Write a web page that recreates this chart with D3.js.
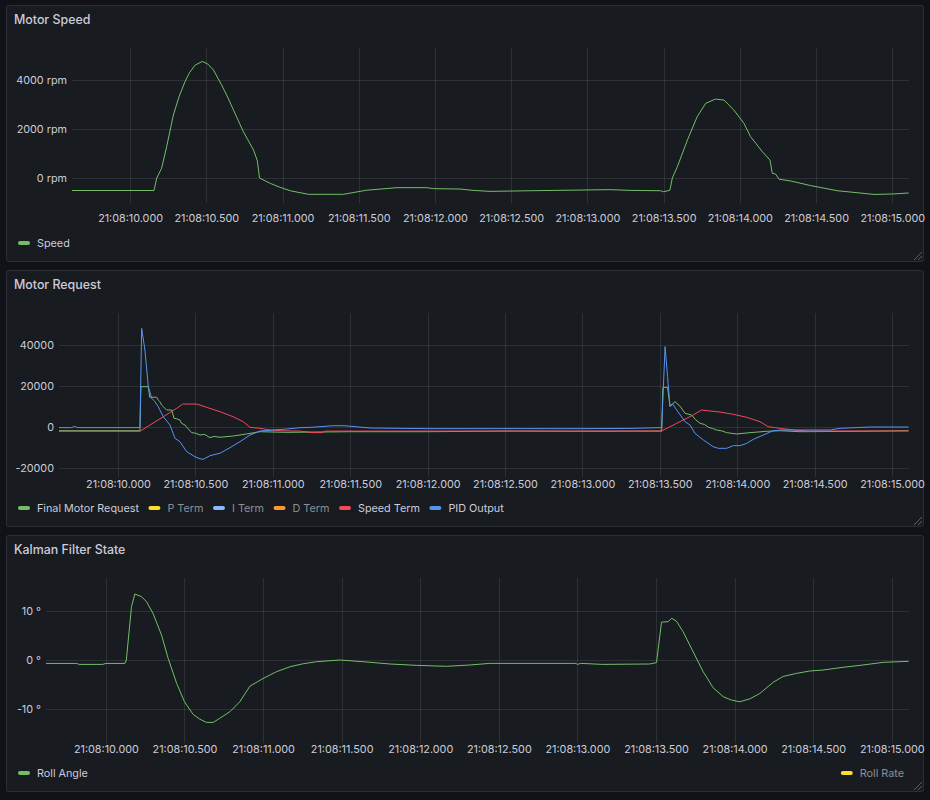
<!DOCTYPE html>
<html><head><meta charset="utf-8">
<script src="https://cdn.jsdelivr.net/npm/d3@7"></script>
<style>
html,body{margin:0;padding:0;background:#111217;}
svg{display:block;font-family:Inter,"Noto Sans",sans-serif;}
</style></head>
<body>
<svg id="c" width="930" height="800"></svg>
<script>
// ---- DATA (time = seconds after 21:08:00) ----
const timeDomain = [9.619, 15.107];
const xTicks = [10, 10.5, 11, 11.5, 12, 12.5, 13, 13.5, 14, 14.5, 15];

const speedTicks = [0, 2000, 4000];
const speed = [[9.619,-510],[10.157,-510],[10.175,0],[10.207,400],[10.24,1280],[10.284,2570],[10.32,3300],[10.36,3930],[10.39,4300],[10.427,4610],[10.474,4760],[10.51,4650],[10.547,4410],[10.60,3800],[10.64,3300],[10.678,2780],[10.743,1890],[10.81,1140],[10.835,700],[10.849,0],[10.92,-220],[10.984,-380],[11.05,-520],[11.17,-665],[11.40,-665],[11.55,-500],[11.75,-395],[11.946,-395],[11.99,-435],[12.165,-450],[12.25,-505],[12.36,-545],[12.625,-520],[13.15,-475],[13.28,-505],[13.48,-520],[13.50,-560],[13.541,-500],[13.557,0],[13.59,460],[13.656,1550],[13.72,2500],[13.776,3050],[13.84,3220],[13.896,3180],[13.96,2780],[14.027,2230],[14.07,1690],[14.148,1070],[14.198,730],[14.213,190],[14.235,160],[14.257,-50],[14.333,-120],[14.465,-310],[14.64,-520],[14.77,-600],[14.88,-670],[15.01,-650],[15.107,-610]];

const reqTicks = [-20000, 0, 20000, 40000];
const finalMotorRequest = [[9.619,-1800],[10.142,-1800],[10.148,19660],[10.196,19660],[10.205,14500],[10.25,14500],[10.262,13000],[10.271,12300],[10.283,10600],[10.293,9900],[10.314,8300],[10.347,8300],[10.362,4240],[10.38,4000],[10.40,3400],[10.41,1800],[10.433,980],[10.45,-600],[10.476,-2760],[10.50,-3000],[10.53,-3900],[10.56,-3600],[10.594,-5200],[10.62,-4600],[10.659,-5000],[10.744,-4400],[10.83,-3400],[10.917,-2300],[11.09,-2600],[11.5,-2300],[12.0,-2300],[12.5,-2000],[13.0,-2100],[13.512,-2000],[13.52,19350],[13.55,19350],[13.566,10200],[13.598,12340],[13.63,10200],[13.663,6670],[13.706,5850],[13.73,3600],[13.76,1790],[13.79,1200],[13.814,-160],[13.84,-700],[13.867,-1460],[13.9,-1900],[13.932,-2760],[13.996,-3400],[14.082,-2760],[14.19,-2100],[14.276,-1800],[14.405,-2300],[14.8,-2100],[15.107,-1800]];
const speedTerm = [[9.619,-2100],[10.142,-2100],[10.207,980],[10.293,5020],[10.379,9100],[10.418,11200],[10.508,11200],[10.573,9600],[10.659,7460],[10.744,5020],[10.809,2600],[10.853,-160],[10.917,-650],[10.982,-1460],[11.047,-1800],[11.176,-2000],[11.26,-2750],[11.32,-2750],[11.34,-2000],[13.512,-1950],[13.63,2600],[13.716,5850],[13.77,8300],[13.824,7800],[13.889,7300],[13.975,6180],[14.061,4730],[14.147,2600],[14.2,160],[14.276,-650],[14.362,-1460],[14.45,-1950],[15.107,-1950]];
const pidOutput = [[9.619,-300],[9.70,-300],[9.72,300],[9.74,-300],[10.142,-300],[10.153,48100],[10.174,37560],[10.196,19660],[10.218,14000],[10.239,12340],[10.26,9900],[10.293,5020],[10.336,980],[10.368,-5500],[10.40,-7170],[10.444,-12050],[10.497,-14500],[10.53,-15500],[10.55,-15770],[10.594,-14000],[10.659,-12800],[10.723,-10100],[10.788,-7170],[10.853,-3900],[10.917,-1950],[11.003,-1460],[11.09,-980],[11.176,-340],[11.25,-150],[11.39,630],[11.46,630],[11.63,-490],[12.0,-800],[12.5,-800],[13.0,-800],[13.3,-700],[13.512,-300],[13.534,39200],[13.55,24600],[13.566,9900],[13.583,11200],[13.609,8300],[13.663,2600],[13.695,980],[13.727,-3100],[13.781,-6340],[13.845,-9600],[13.878,-10400],[13.932,-10400],[13.975,-9100],[14.018,-9100],[14.061,-8000],[14.104,-6000],[14.169,-3900],[14.233,-1800],[14.287,-1460],[14.6,-1460],[14.665,-650],[14.858,0],[15.107,0]];

const rollTicks = [-10, 0, 10];
const rollAngle = [[9.619,-0.7],[9.814,-0.7],[9.83,-0.9],[9.98,-0.9],[10.0,-0.7],[10.121,-0.7],[10.13,0],[10.163,11.0],[10.184,13.6],[10.227,13.05],[10.259,12.0],[10.30,9.6],[10.354,5.15],[10.396,0.35],[10.45,-4.8],[10.50,-8.6],[10.555,-11.2],[10.598,-12.2],[10.64,-12.85],[10.683,-12.85],[10.725,-12.0],[10.789,-10.65],[10.852,-8.6],[10.916,-5.4],[11.0,-3.8],[11.043,-3.1],[11.086,-2.4],[11.17,-1.4],[11.25,-0.8],[11.34,-0.35],[11.49,0],[11.637,-0.35],[11.807,-0.82],[11.976,-1.1],[12.167,-1.3],[12.315,-1.03],[12.443,-0.69],[12.99,-0.69],[13.0,-0.9],[13.02,-0.69],[13.16,-0.9],[13.46,-0.82],[13.503,-0.55],[13.535,7.8],[13.577,7.9],[13.60,8.6],[13.63,8.0],[13.672,5.85],[13.736,1.7],[13.80,-2.4],[13.863,-5.7],[13.927,-7.55],[13.98,-8.25],[14.033,-8.6],[14.097,-8.0],[14.16,-6.9],[14.245,-4.6],[14.308,-3.4],[14.394,-2.75],[14.478,-2.27],[14.563,-2.06],[14.69,-1.5],[14.817,-1.03],[14.945,-0.48],[15.107,-0.27]];

// ---- helpers ----
const base = Date.UTC(2024, 0, 1, 21, 8, 0);
const toDate = s => new Date(base + Math.round(s * 1000));
const fmt = d3.utcFormat("%H:%M:%S.%L");
const svg = d3.select("#c");
const TEXT = "#ccccdc", DIM = "#8d8e96", GRID = "rgba(204,204,220,0.12)";
const FS = 10.8;

function panel(cfg) {
  const g = svg.append("g");
  g.append("rect").attr("x", 6.5).attr("y", cfg.top + 0.5).attr("width", 917).attr("height", 256)
    .attr("rx", 2).attr("fill", "#181b1f").attr("stroke", "#2b2e35");
  g.append("text").attr("x", 14).attr("y", cfg.top + 19).attr("fill", TEXT)
    .attr("font-size", 12.4).attr("font-weight", 500).text(cfg.title);
  // resize handle
  const bx = 923, by = cfg.top + 256;
  g.append("path").attr("d", `M${bx-9},${by-1}L${bx-1},${by-9}M${bx-5},${by-1}L${bx-1},${by-5}`)
    .attr("stroke", "#5b5d64").attr("stroke-width", 1);

  const x = d3.scaleTime().domain(timeDomain.map(toDate)).range([cfg.left, 908.6]);
  const y = d3.scaleLinear().domain(cfg.yDomain).range([cfg.bottom, cfg.plotTop]);

  // grid
  g.append("g").selectAll("line").data(cfg.yTicks).join("line")
    .attr("x1", cfg.left).attr("x2", 909).attr("y1", d => Math.round(y(d)) + 0.5).attr("y2", d => Math.round(y(d)) + 0.5)
    .attr("stroke", GRID);
  g.append("g").selectAll("line").data(xTicks).join("line")
    .attr("x1", d => Math.round(x(toDate(d))) + 0.5).attr("x2", d => Math.round(x(toDate(d))) + 0.5)
    .attr("y1", cfg.plotTop).attr("y2", cfg.bottom).attr("stroke", GRID);

  // y axis labels
  const ya = g.append("g").attr("transform", `translate(${cfg.left - 5},0)`)
    .call(d3.axisLeft(y).tickValues(cfg.yTicks).tickSize(0).tickPadding(0).tickFormat(cfg.yFmt));
  ya.select(".domain").remove();
  ya.selectAll("text").attr("fill", TEXT).attr("font-size", FS).attr("font-family", "Inter");
  // x axis labels
  const xa = g.append("g").attr("transform", `translate(0,${cfg.xLabelY - 7})`)
    .call(d3.axisBottom(x).tickValues(xTicks.map(toDate)).tickSize(0).tickPadding(0).tickFormat(fmt));
  xa.select(".domain").remove();
  xa.selectAll("text").attr("fill", TEXT).attr("font-size", FS).attr("font-family", "Inter");

  // series
  const line = d3.line().x(d => x(toDate(d[0]))).y(d => y(d[1]));
  cfg.series.forEach(s => {
    g.append("path").datum(s.data).attr("d", line).attr("fill", "none")
      .attr("stroke", s.color).attr("stroke-width", 1).attr("stroke-linejoin", "round");
  });

  // legend
  const ly = cfg.top + 238;
  let lx = 18;
  cfg.legend.forEach(it => {
    const item = g.append("g");
    item.append("rect").attr("x", lx).attr("y", ly - 2).attr("width", 12).attr("height", 4).attr("rx", 2).attr("fill", it.color);
    const t = item.append("text").attr("x", lx + 19).attr("y", ly + 4).attr("font-size", FS)
      .attr("fill", it.hidden ? DIM : TEXT).text(it.name);
    lx = lx + 19 + t.node().getComputedTextLength() + 9.5;
  });
  if (cfg.rightLegend) {
    const it = cfg.rightLegend;
    const t = g.append("text").attr("x", 904).attr("y", ly + 4).attr("font-size", FS)
      .attr("text-anchor", "end").attr("fill", it.hidden ? DIM : TEXT).text(it.name);
    const w = t.node().getComputedTextLength();
    g.append("rect").attr("x", 904 - w - 19).attr("y", ly - 2).attr("width", 12).attr("height", 4).attr("rx", 2).attr("fill", it.color);
  }
}

panel({
  top: 5, title: "Motor Speed", left: 72, plotTop: 48, bottom: 203, xLabelY: 221,
  yDomain: [-1020, 5306], yTicks: speedTicks, yFmt: d => d + " rpm",
  series: [{ data: speed, color: "#73bf69" }],
  legend: [{ name: "Speed", color: "#73bf69" }]
});
panel({
  top: 270, title: "Motor Request", left: 59, plotTop: 313, bottom: 477, xLabelY: 487,
  yDomain: [-24390, 55610], yTicks: reqTicks, yFmt: d => String(d),
  series: [
    { data: finalMotorRequest, color: "#73bf69" },
    { data: speedTerm, color: "#f2495c" },
    { data: pidOutput, color: "#5794f2" }
  ],
  legend: [
    { name: "Final Motor Request", color: "#73bf69" },
    { name: "P Term", color: "#fade2a", hidden: true },
    { name: "I Term", color: "#8ab8ff", hidden: true },
    { name: "D Term", color: "#ff9830", hidden: true },
    { name: "Speed Term", color: "#f2495c" },
    { name: "PID Output", color: "#5794f2" }
  ]
});
panel({
  top: 535, title: "Kalman Filter State", left: 46, plotTop: 578, bottom: 743, xLabelY: 752,
  yDomain: [-17.1, 16.9], yTicks: rollTicks, yFmt: d => d + " °",
  series: [{ data: rollAngle, color: "#73bf69" }],
  legend: [{ name: "Roll Angle", color: "#73bf69" }],
  rightLegend: { name: "Roll Rate", color: "#fade2a", hidden: true }
});
</script>
</body></html>
